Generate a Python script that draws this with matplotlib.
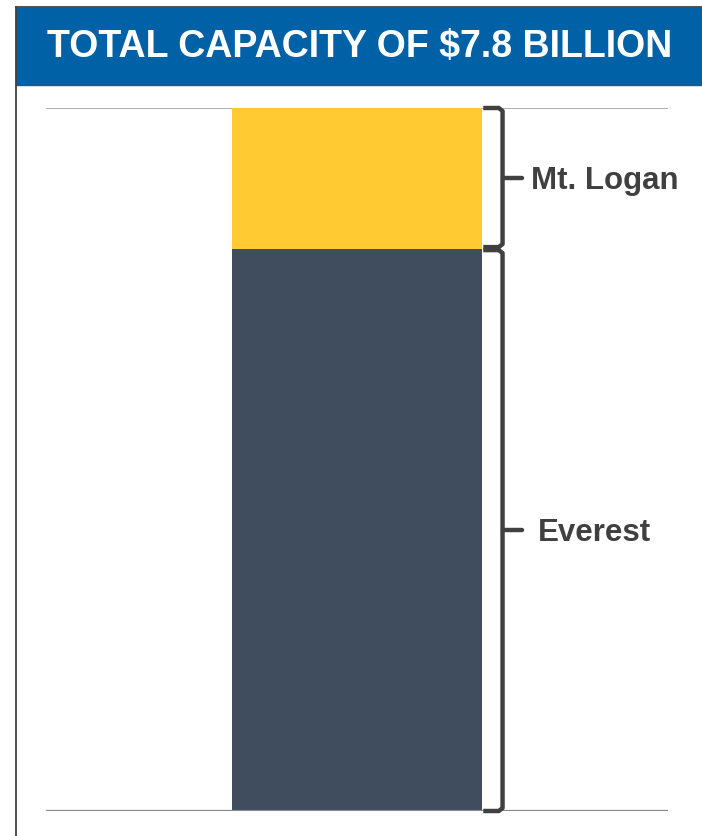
import matplotlib.pyplot as plt
from matplotlib.patches import Rectangle
from matplotlib.lines import Line2D

# Capacity split, $ billions
segments = ['Everest', 'Mt. Logan']
values = [6.24, 1.56]
colors = ['#404D5F', '#FFCA32']
title = 'TOTAL CAPACITY OF $7.8 BILLION'

W, H = 702, 836
fig = plt.figure(figsize=(W / 100, H / 100), dpi=100)
fig.patch.set_facecolor('white')

# header band and frame
fig.patches.append(Rectangle((16 / W, 1 - 85 / H), 1 - 16 / W, 77 / H,
                             transform=fig.transFigure, color='#0061A6', zorder=0))
fig.lines.append(Line2D([16 / W, 16 / W], [0, 1 - 7 / H], transform=fig.transFigure,
                        color='#404040', lw=1.3))
fig.lines.append(Line2D([16 / W, 1], [1 - 7 / H, 1 - 7 / H], transform=fig.transFigure,
                        color='#404040', lw=1.3))
fig.text(360 / W, 1 - 47 / H, title, color='white', fontsize=27, fontweight='bold',
         family=['Liberation Sans', 'DejaVu Sans'], ha='center', va='center')

ax = fig.add_axes([46 / W, 1 - 811 / H, 622 / W, 703 / H])
total = sum(values)
ax.set_xlim(0, 1)
ax.set_ylim(0, total)
ax.axis('off')

bottom = 0
for name, v, c in zip(segments, values, colors):
    ax.bar(0.5, v, width=0.402, bottom=bottom, color=c, zorder=2)
    bottom += v

ax.axhline(total, color='#A0A0A0', lw=1.2, zorder=1)
ax.axhline(0, color='#888888', lw=1.6, zorder=3)

# braces with labels
px = total / 703
x0, xv, xt = 0.703, 0.734, 0.765
label_x = {'Everest': 0.791, 'Mt. Logan': 0.779}
bottom = 0
for name, v in zip(segments, values):
    lo = bottom + 1.5 * px
    hi = bottom + v - 1.5 * px
    if bottom + v >= total:
        hi = bottom + v
    if bottom == 0:
        lo = 0
    mid = bottom + v / 2
    d = 3 * px
    r = 0.006
    xs = [x0, xv - r, xv, xv, xv - r, x0]
    ys = [hi, hi, hi - d, lo + d, lo, lo]
    ax.plot(xs, ys, color='#404040', lw=3.2, solid_joinstyle='round',
            solid_capstyle='butt', clip_on=False, zorder=4)
    ax.plot([xv, xt], [mid, mid], color='#404040', lw=3.2,
            solid_capstyle='round', clip_on=False, zorder=4)
    ax.text(label_x[name], mid - 3 * px, name, color='#404040', fontsize=22.5,
            fontweight='bold', family=['Liberation Sans', 'DejaVu Sans'],
            ha='left', va='center')
    bottom += v

fig.savefig('out.png', dpi=100)
